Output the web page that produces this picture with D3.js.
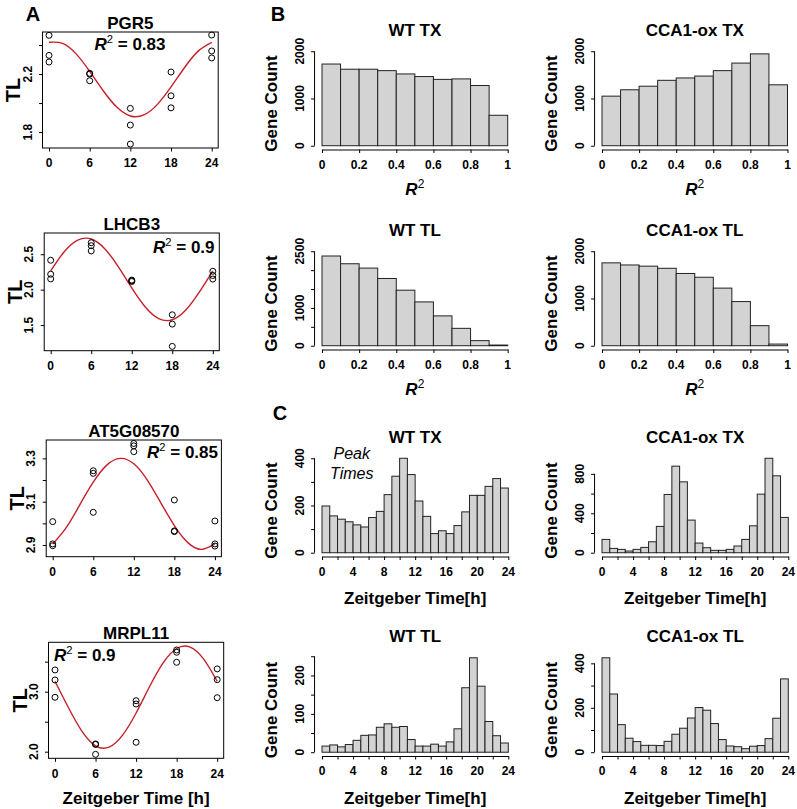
<!DOCTYPE html>
<html>
<head>
<meta charset="utf-8">
<script src="https://cdn.jsdelivr.net/npm/d3@7/dist/d3.min.js"></script>
<style>
html,body{margin:0;padding:0;background:#fff;}
svg{display:block;}
</style>
</head>
<body>
<svg id="fig" width="797" height="809"></svg>
<script>
// ---------------- DATA ----------------
const sampleHours = [0, 6, 12, 18, 24];
const geneNames = ["PGR5", "LHCB3", "AT5G08570", "MRPL11"];
const geneR2 = ["0.83", "0.9", "0.85", "0.9"];

// TL replicate values [hour, value]
const pgr5TL = [[0,2.467],[0,2.329],[0,2.283],[6,2.205],[6,2.200],[6,2.154],[12,1.963],[12,1.848],[12,1.717],[18,2.214],[18,2.050],[18,1.967],[24,2.469],[24,2.359],[24,2.311]];
const lhcb3TL = [[0,2.415],[0,2.218],[0,2.152],[6,2.663],[6,2.621],[6,2.547],[12,2.135],[12,2.125],[12,2.115],[18,1.645],[18,1.514],[18,1.199],[24,2.26],[24,2.20],[24,2.15]];
const at5gTL = [[0,3.008],[0,2.905],[0,2.897],[6,3.243],[6,3.231],[6,3.051],[12,3.369],[12,3.358],[12,3.331],[18,3.108],[18,2.965],[18,2.962],[24,3.011],[24,2.905],[24,2.895]];
const mrpl11TL = [[0,3.362],[0,3.195],[0,2.907],[6,2.130],[6,2.120],[6,1.956],[12,2.850],[12,2.795],[12,2.157],[18,3.695],[18,3.657],[18,3.490],[24,3.380],[24,3.200],[24,2.900]];

// fitted curves, read every 2 h
const fitHours = [0,2,4,6,8,10,12,14,16,18,20,22,24];
const pgr5Fit = [2.419,2.412,2.339,2.219,2.085,1.972,1.911,1.918,1.991,2.111,2.245,2.358,2.419];
const lhcb3Fit = [2.266,2.535,2.699,2.715,2.578,2.325,2.024,1.755,1.591,1.575,1.712,1.965,2.266];
const at5gFit = [2.905,2.980,3.085,3.190,3.269,3.300,3.275,3.200,3.095,2.990,2.911,2.880,2.905];
const mrpl11Fit = [3.173,2.732,2.338,2.098,2.075,2.275,2.645,3.086,3.480,3.720,3.743,3.543,3.173];

const aYTicks = [[1.8,2.0,2.2,2.4],[1.5,2.0,2.5],[2.9,3.0,3.1,3.2,3.3],[2.0,2.5,3.0,3.5]];
const aYLabels = [[1.8,2.2],[1.5,2.0,2.5],[2.9,3.1,3.3],[2.0,3.0]];

// R^2 histograms (bins of 0.1)
const r2Edges = [0,0.1,0.2,0.3,0.4,0.5,0.6,0.7,0.8,0.9,1.0];
const r2Ticks = [0,0.2,0.4,0.6,0.8,1];
const wtTxR2 = [1730,1620,1620,1590,1520,1465,1405,1415,1275,645];
const cca1TxR2 = [1050,1185,1260,1385,1435,1475,1590,1750,1945,1290];
const wtTlR2 = [2375,2170,2055,1780,1470,1160,790,460,135,18];
const cca1TlR2 = [1755,1710,1685,1640,1530,1450,1220,935,425,35];

// peak-time histograms (1 h bins)
const hourEdges = [0,1,2,3,4,5,6,7,8,9,10,11,12,13,14,15,16,17,18,19,20,21,22,23,24];
const hourTicks = [0,2,4,6,8,10,12,14,16,18,20,22,24];
const hourLabels = [0,4,8,12,16,20,24];
const wtTxPeak = [198,156,142,131,118,109,149,175,246,324,400,331,219,154,81,93,81,115,173,243,243,281,314,274];
const cca1TxPeak = [135,44,34,17,34,54,111,267,591,878,719,331,98,51,24,24,34,68,135,273,594,958,780,358];
const wtTlPeak = [16,19,14,20,31,44,45,65,74,65,67,33,16,16,21,16,27,61,168,246,172,80,43,24];
const cca1TlPeak = [425,262,124,63,48,31,31,30,49,81,108,154,201,189,129,57,28,25,16,27,30,61,153,330];

const histTitles = ["WT TX","CCA1-ox TX","WT TL","CCA1-ox TL","WT TX","CCA1-ox TX","WT TL","CCA1-ox TL"];
const histYTicks = [[0,1000,2000],[0,1000,2000],[0,500,1000,1500,2000,2500],[0,1000,2000],
                    [0,100,200,300,400],[0,200,400,600,800],[0,50,100,150,200,250],[0,100,200,300,400]];
const histYLabels = [[0,1000,2000],[0,1000,2000],[0,1000,2500],[0,1000,2000],
                     [0,200,400],[0,400,800],[0,100,200],[0,200,400]];
const histYLim = [2000,2000,2500,2000,null,null,null,null];

// ---------------- DRAWING ----------------
const FONT = '"Liberation Sans", Arial, Helvetica, sans-serif';
const svg = d3.select("#fig").attr("font-family", FONT);

function label(g, x, y, s, size, o = {}) {
  const t = g.append("text")
    .attr("transform", `translate(${x},${y})` + (o.rot ? " rotate(-90)" : ""))
    .attr("text-anchor", o.anchor || "middle")
    .attr("dy", "0.35em")
    .attr("font-size", size)
    .attr("font-weight", o.weight || "bold")
    .attr("fill", "#000");
  if (o.italic) t.attr("font-style", "italic");
  t.text(s);
  return t;
}
function r2Text(g, x, y, size, rest, anchor) {
  const t = g.append("text").attr("x", x).attr("y", y)
    .attr("text-anchor", anchor).attr("font-size", size).attr("font-weight", "bold").attr("fill", "#000");
  t.append("tspan").attr("font-style", "italic").text("R");
  t.append("tspan").attr("font-size", size * 0.66).attr("font-weight", "normal").attr("dy", -size * 0.42).text("2");
  t.append("tspan").attr("dy", size * 0.42).text(rest);
  return t;
}
function styleAxis(a) {
  a.selectAll("line").attr("stroke", "#000");
  a.selectAll("path").attr("stroke", "#000");
}
function yAxis(g, y, xPos, ticks, labels, fmt, showLine) {
  if (showLine) {
    g.append("line").attr("x1", xPos).attr("x2", xPos)
      .attr("y1", y(ticks[0])).attr("y2", y(ticks[ticks.length - 1]))
      .attr("stroke", "#000");
  }
  const a = g.append("g").attr("transform", `translate(${xPos},0)`)
    .call(d3.axisLeft(y).tickValues(ticks).tickSize(3.5).tickSizeOuter(0).tickFormat(""));
  a.select(".domain").remove();
  styleAxis(a);
  labels.forEach(v => label(g, xPos - 15, y(v), fmt(v), 12, { rot: true }));
}
function xAxis(g, x, yPos, ticks, labels, fmt, keepDomain) {
  const a = g.append("g").attr("transform", `translate(0,${yPos})`)
    .call(d3.axisBottom(x).tickValues(ticks).tickSize(3.5).tickSizeOuter(0).tickFormat(""));
  if (!keepDomain) a.select(".domain").remove();
  styleAxis(a);
  labels.forEach(v => label(g, x(v), yPos + 15, fmt(v), 12));
}

// ---- Panel A ----
const aLayout = [
  { top: 32,    bottom: 148,   x0: 49,   x24: 211.7, yDom: [1.69, 2.49],  r2x: 130, r2y: 50,  r2a: "middle" },
  { top: 233,   bottom: 350.7, x0: 50.7, x24: 212.8, yDom: [1.138, 2.80], r2x: 153, r2y: 253, r2a: "start" },
  { top: 440,   bottom: 556.7, x0: 52.7, x24: 214.9, yDom: [2.846, 3.385],r2x: 147, r2y: 458, r2a: "start" },
  { top: 642.3, bottom: 758.3, x0: 55,   x24: 217.2, yDom: [1.89, 3.823], r2x: 54,  r2y: 661, r2a: "start" }
];
const aPoints = [pgr5TL, lhcb3TL, at5gTL, mrpl11TL];
const aFits = [pgr5Fit, lhcb3Fit, at5gFit, mrpl11Fit];
const fmt1 = d3.format(".1f");

aLayout.forEach((p, i) => {
  const g = svg.append("g");
  const x = d3.scaleLinear().domain([0, 24]).range([p.x0, p.x24]);
  const y = d3.scaleLinear().domain(p.yDom).range([p.bottom, p.top]);
  const L = x(-0.96), R = x(24.96);
  const line = d3.line().x((d, j) => x(fitHours[j])).y(d => y(d)).curve(d3.curveNatural);
  g.append("path").datum(aFits[i]).attr("d", line)
    .attr("fill", "none").attr("stroke", "#c8202a").attr("stroke-width", 1.4);
  g.selectAll("circle").data(aPoints[i]).join("circle")
    .attr("cx", d => x(d[0])).attr("cy", d => y(d[1])).attr("r", 3)
    .attr("fill", "none").attr("stroke", "#000").attr("stroke-width", 1);
  g.append("rect").attr("x", L).attr("y", p.top).attr("width", R - L).attr("height", p.bottom - p.top)
    .attr("fill", "none").attr("stroke", "#000").attr("stroke-width", 1);
  yAxis(g, y, L, aYTicks[i], aYLabels[i], fmt1, false);
  xAxis(g, x, p.bottom, sampleHours, sampleHours, d3.format("d"), false);
  label(g, (L + R) / 2, p.top - 9, geneNames[i], 17);
  label(g, L - 29, (p.top + p.bottom) / 2, "TL", 20, { rot: true });
  r2Text(g, p.r2x, p.r2y, 17, " = " + geneR2[i], p.r2a);
  if (i === 3) label(g, (L + R) / 2, 798, "Zeitgeber Time [h]", 17);
});

// ---- Panels B & C ----
const histLayout = [
  { xl: 322, xr: 507.7, bottom: 149.5 },
  { xl: 602, xr: 787.5, bottom: 149.5 },
  { xl: 322, xr: 507.7, bottom: 349.5 },
  { xl: 602, xr: 787.5, bottom: 349.5 },
  { xl: 322, xr: 508.3, bottom: 556.5 },
  { xl: 602, xr: 788.3, bottom: 556.5 },
  { xl: 322, xr: 508.3, bottom: 756 },
  { xl: 602, xr: 788.3, bottom: 756 }
];
const histCounts = [wtTxR2, cca1TxR2, wtTlR2, cca1TlR2, wtTxPeak, cca1TxPeak, wtTlPeak, cca1TlPeak];
const PH = 102;

histLayout.forEach((p, i) => {
  const g = svg.append("g");
  const isR2 = i < 4;
  const edges = isR2 ? r2Edges : hourEdges;
  const counts = histCounts[i];
  const lim = histYLim[i] != null ? histYLim[i] : d3.max(counts);
  const x = d3.scaleLinear().domain([edges[0], edges[edges.length - 1]]).range([p.xl, p.xr]);
  const y = d3.scaleLinear().domain([-0.04 * lim, 1.04 * lim]).range([p.bottom, p.bottom - PH]);
  const axX = p.xl - 0.04 * (p.xr - p.xl);
  g.selectAll("rect").data(counts).join("rect")
    .attr("x", (d, j) => x(edges[j])).attr("width", (d, j) => x(edges[j + 1]) - x(edges[j]))
    .attr("y", d => y(d)).attr("height", d => y(0) - y(d))
    .attr("fill", "#d3d3d3").attr("stroke", "#222").attr("stroke-width", 1);
  yAxis(g, y, axX, histYTicks[i], histYLabels[i], d3.format("d"), true);
  if (isR2) {
    xAxis(g, x, p.bottom, r2Ticks, r2Ticks, v => String(v), true);
    const t = g.append("text").attr("x", (p.xl + p.xr) / 2).attr("y", p.bottom + 45)
      .attr("text-anchor", "middle").attr("font-size", 17).attr("font-weight", "bold");
    t.append("tspan").attr("font-style", "italic").text("R");
    t.append("tspan").attr("font-size", 12).attr("font-weight", "normal").attr("dy", -7).text("2");
  } else {
    xAxis(g, x, p.bottom, hourTicks, hourLabels, d3.format("d"), true);
    label(g, (p.xl + p.xr) / 2, p.bottom + 42, "Zeitgeber Time[h]", 17);
  }
  label(g, (p.xl + p.xr) / 2, p.bottom - PH - 17.5, histTitles[i], 17);
  label(g, axX - 44, p.bottom - PH / 2 + 5, "Gene Count", 17, { rot: true });
});

// annotations
const ann = svg.append("g");
label(ann, 351.7, 453.3, "Peak", 16, { weight: "normal", italic: true });
label(ann, 351.7, 473.3, "Times", 16, { weight: "normal", italic: true });
label(ann, 33, 14, "A", 20);
label(ann, 278, 14, "B", 20);
label(ann, 280, 413, "C", 20);
</script>
</body>
</html>
